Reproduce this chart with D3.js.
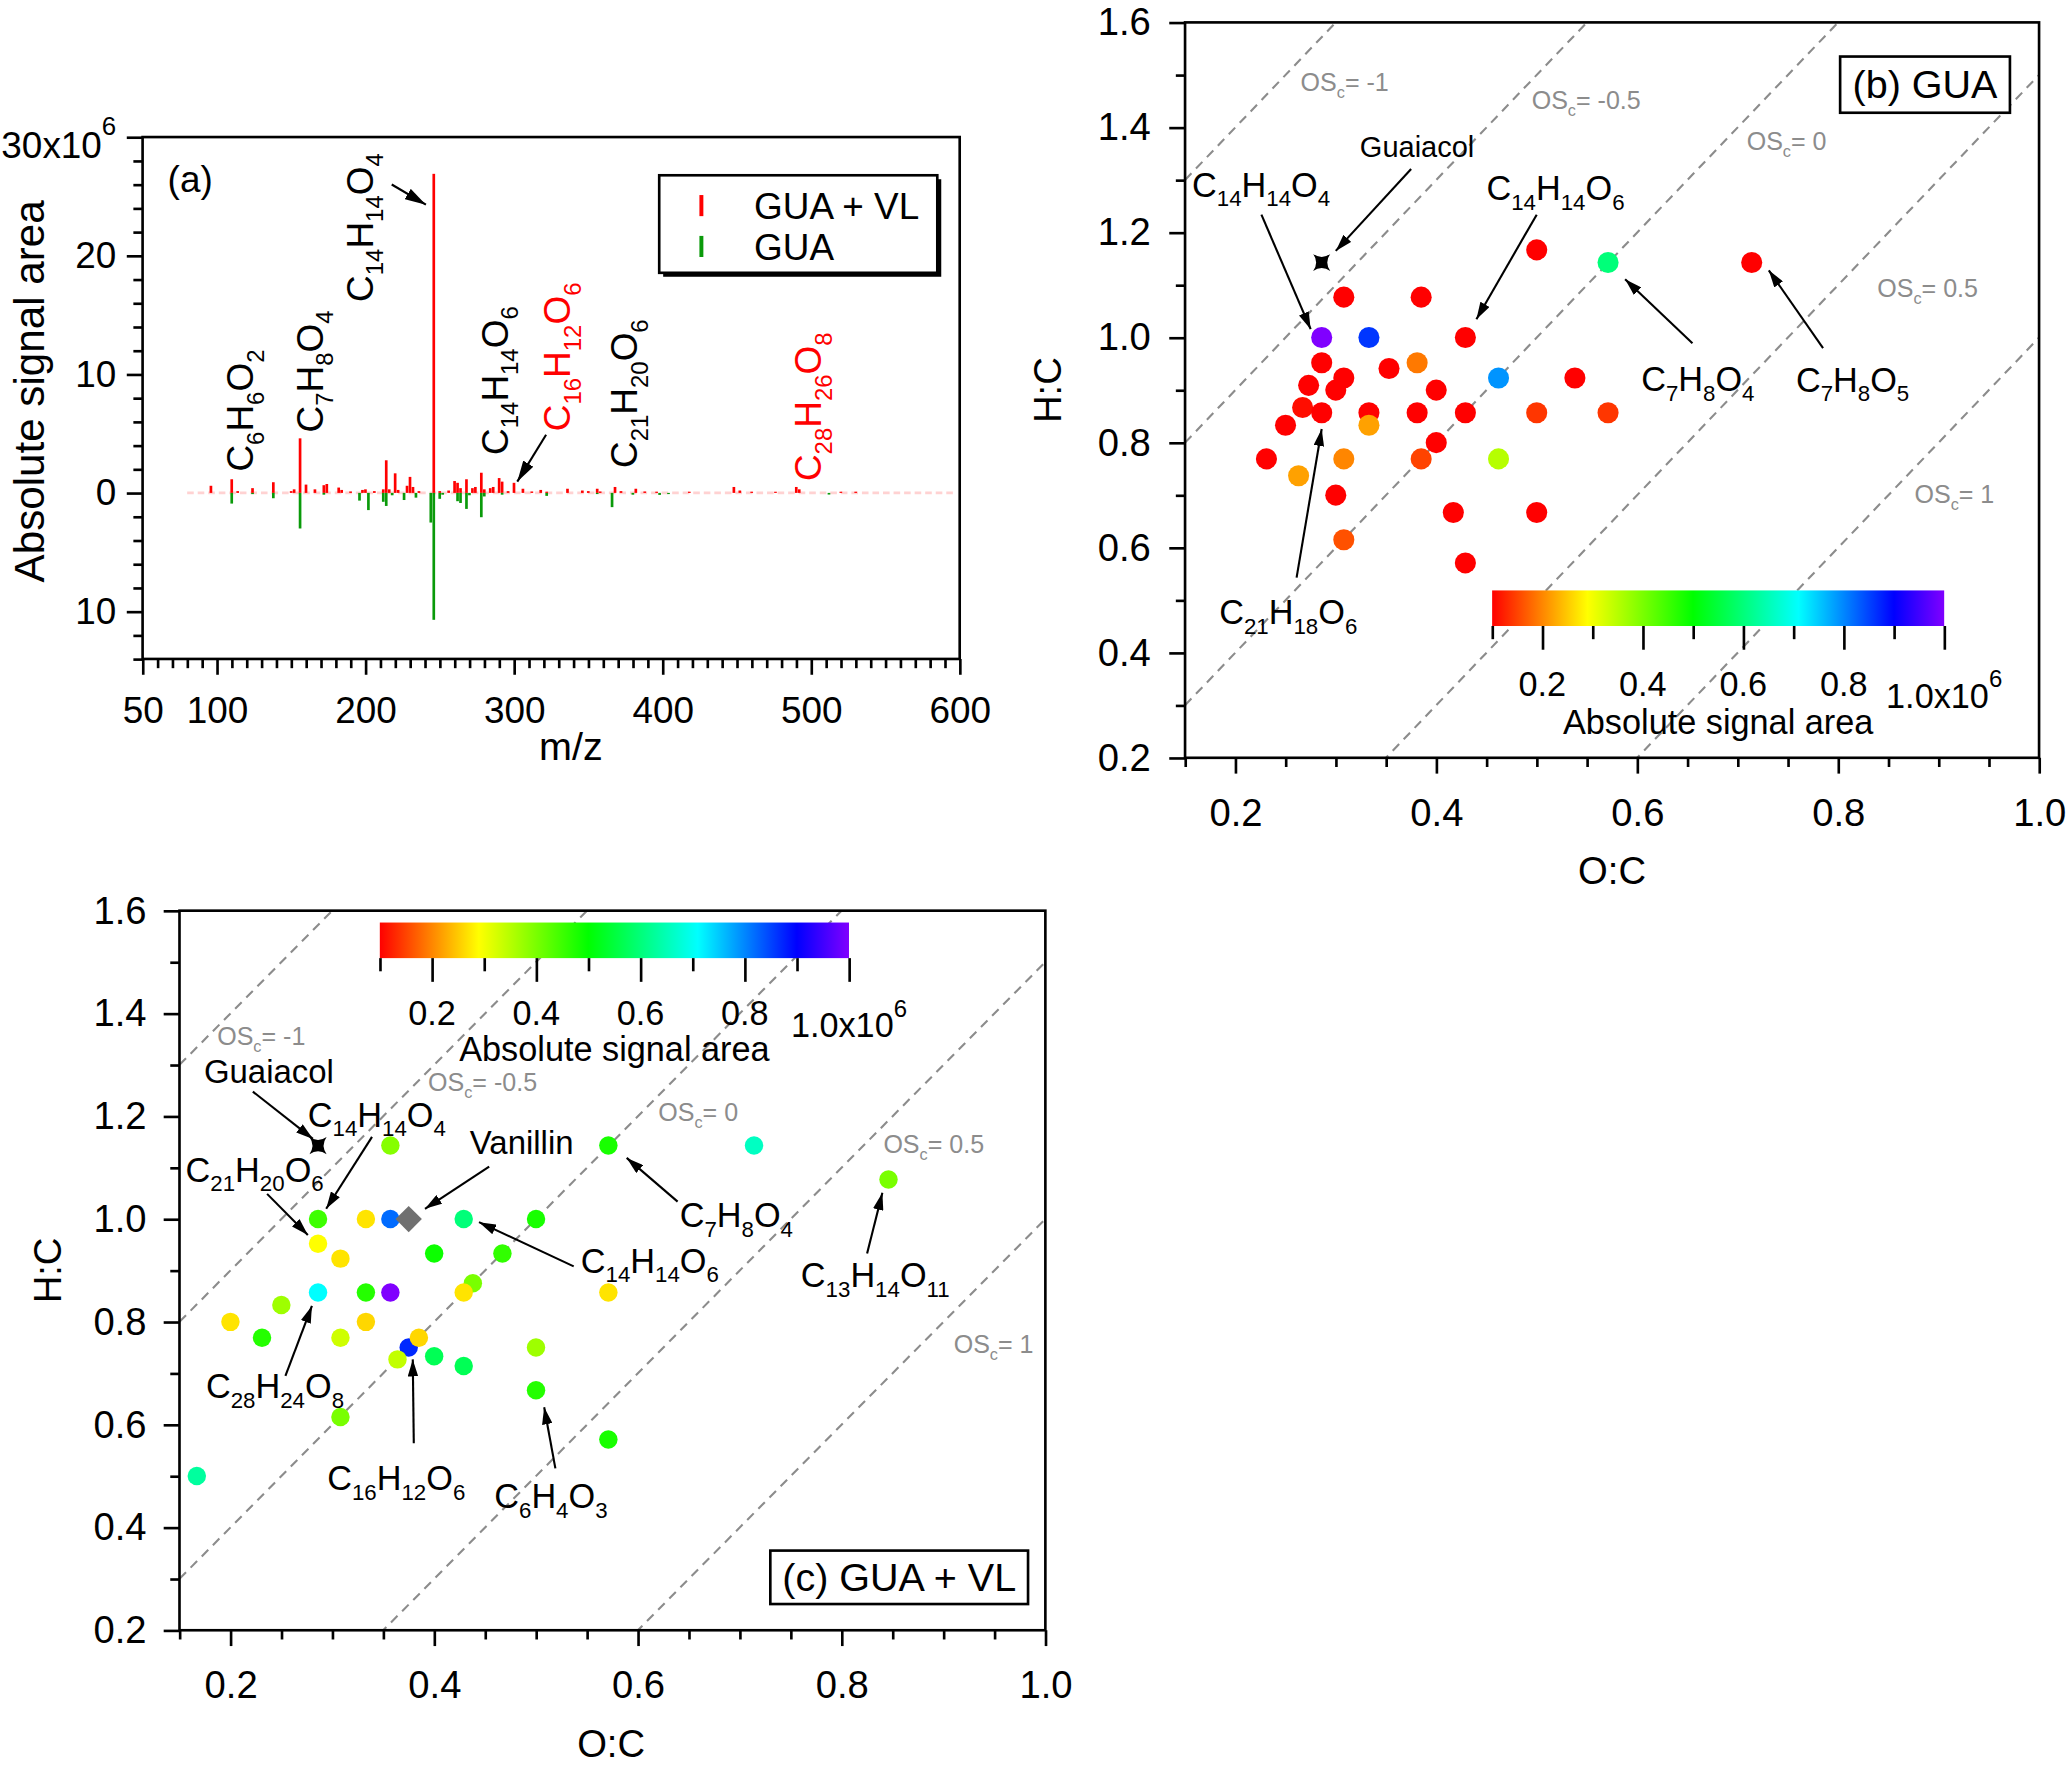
<!DOCTYPE html>
<html>
<head>
<meta charset="utf-8">
<title>GUA and GUA + VL products</title>
<script src="https://d3js.org/d3.v7.min.js"></script>
<style>
  body { margin: 0; background: white; }
  svg { display: block; }
  text { font-family: "Liberation Sans", Arial, Helvetica, sans-serif; fill: black; }
  .frame { fill: none; stroke: black; stroke-width: 2; }
  .osc-line { stroke: #8c8c8c; stroke-width: 1.6; stroke-dasharray: 7,5; fill: none; }
  .osc { fill: #8c8c8c; }
  .arrow { stroke: black; stroke-width: 1.6; }
</style>
</head>
<body>
<svg id="fig" width="2067" height="1766" viewBox="0 0 1568 1340"></svg>
<script>
const FONT = '"Liberation Sans", Arial, Helvetica, sans-serif';

// ---------- (a) mass spectrum, signal area in 10^6 ----------
const redMz  = [96,110,114,124,138,150,152,156,160,166,172,174,182,184,190,198,200,206,212,214,216,220,222,228,230,232,236,246,250,256,260,262,264,268,272,274,278,280,284,286,290,292,296,300,306,312,318,322,336,346,350,356,358,368,372,382,388,396,418,448,452,460,476,490,492,520,530];
const redVal = [0.6,1.15,0.15,0.4,0.9,0.15,0.3,4.6,0.7,0.3,0.65,0.75,0.45,0.25,0.12,0.25,0.3,0.15,0.3,2.75,0.3,1.65,0.25,0.6,1.35,0.5,0.15,26.9,0.15,0.2,1.0,0.85,0.4,1.15,0.4,0.5,1.7,0.3,0.4,0.5,1.25,0.95,0.15,0.85,0.35,0.12,0.25,0.1,0.35,0.2,0.15,0.35,0.12,0.5,0.15,0.35,0.12,0.1,0.1,0.5,0.2,0.1,0.1,0.5,0.3,0.1,0.1];
const greenMz  = [110,124,138,156,172,196,202,212,214,218,226,234,244,246,250,252,262,264,268,270,278,280,292,322,356,366,380,398,404,512];
const greenVal = [0.9,0.1,0.45,3.0,0.15,0.65,1.45,0.75,1.1,0.2,0.6,0.4,2.5,10.7,0.5,0.15,0.7,0.85,1.35,0.2,2.05,0.3,0.15,0.25,0.1,1.2,0.15,0.17,0.1,0.14];

const aXTicks = [50,100,200,300,400,500,600];
const aYTicks = [-10,0,10,20,30];
const aLabelText = ["C6H6O2","C7H8O4","C14H14O4","C14H14O6","C16H12O6","C21H20O6","C28H26O8"];
const aLabelMz   = [124.5,171.5,205,295.7,338,383,506.9];
const aLabelVal  = [1.8,5.1,16.1,3.2,5.2,2.1,1.0];
const aLabelRed  = [false,false,false,false,true,false,true];
const aArrows = [[217.7,26.0,240.7,24.3],[321.6,4.9,302.2,0.95]];
const legendNames = ["GUA + VL","GUA"];

// ---------- (b) GUA van Krevelen ----------
const bOC  = [0.500,0.571,0.714,0.308,0.385,0.286,0.333,0.429,0.286,0.308,0.300,0.273,0.353,0.381,0.400,0.538,0.462,0.250,0.267,0.286,0.333,0.333,0.381,0.429,0.500,0.571,0.231,0.263,0.308,0.385,0.400,0.462,0.300,0.308,0.417,0.500,0.429];
const bHC  = [1.167,1.143,1.143,1.077,1.077,1.000,1.000,1.000,0.952,0.923,0.900,0.909,0.941,0.952,0.900,0.923,0.923,0.833,0.867,0.857,0.857,0.833,0.857,0.857,0.857,0.857,0.769,0.737,0.769,0.769,0.800,0.769,0.700,0.615,0.667,0.667,0.571];
const bSig = [0.10,0.60,0.10,0.10,0.10,1.00,0.86,0.10,0.10,0.10,0.10,0.10,0.10,0.19,0.10,0.10,0.79,0.10,0.11,0.10,0.10,0.22,0.10,0.10,0.14,0.14,0.10,0.22,0.20,0.15,0.10,0.35,0.10,0.16,0.10,0.10,0.10];
const bGuaiacol = [0.286,1.143];
const bLabelText = ["Guaiacol","C14H14O4","C14H14O6","C7H8O4","C7H8O5","C21H18O6"];
const bLabelOC = [0.324,0.157,0.450,0.604,0.758,0.184];
const bLabelHC = [1.343,1.268,1.262,0.898,0.897,0.454];
const bArrows = [[0.375,1.321,0.300,1.165],[0.226,1.234,0.275,1.016],[0.500,1.234,0.440,1.035],[0.655,0.989,0.588,1.111],[0.785,0.980,0.731,1.128],[0.261,0.543,0.286,0.826]];
const bOscOC = [0.265,0.495,0.709,0.839,0.876];
const bOscHC = [1.470,1.435,1.357,1.078,0.685];

// ---------- (c) GUA + VL van Krevelen ----------
const cOC  = [0.357,0.571,0.714,0.846,0.286,0.333,0.357,0.429,0.500,0.286,0.308,0.400,0.467,0.286,0.333,0.357,0.438,0.429,0.571,0.250,0.200,0.333,0.231,0.308,0.375,0.385,0.364,0.400,0.429,0.500,0.500,0.308,0.571,0.167];
const cHC  = [1.143,1.143,1.143,1.077,1.000,1.000,1.000,1.000,1.000,0.952,0.923,0.933,0.933,0.857,0.857,0.857,0.875,0.857,0.857,0.833,0.800,0.800,0.769,0.769,0.750,0.769,0.727,0.733,0.714,0.750,0.667,0.615,0.571,0.500];
const cSig = [0.39,0.48,0.66,0.40,0.45,0.27,0.82,0.60,0.48,0.29,0.27,0.49,0.46,0.71,0.47,1.00,0.40,0.27,0.27,0.37,0.27,0.26,0.47,0.33,0.87,0.26,0.34,0.57,0.57,0.37,0.47,0.40,0.48,0.63];
const cGuaiacol = [0.286,1.143];
const cVanillin = [0.375,1.000];
const cLabelText = ["Guaiacol","C14H14O4","C21H20O6","Vanillin","C7H8O4","C14H14O6","C13H14O11","C28H24O8","C16H12O6","C6H4O3"];
const cLabelOC = [0.174,0.276,0.156,0.435,0.641,0.544,0.760,0.176,0.295,0.459];
const cLabelHC = [1.265,1.180,1.073,1.127,0.984,0.896,0.867,0.651,0.472,0.438];
const cArrows = [[0.222,1.248,0.281,1.156],[0.339,1.160,0.294,1.020],[0.236,1.049,0.276,0.969],[0.454,1.102,0.391,1.020],[0.639,1.034,0.589,1.119],[0.537,0.908,0.444,0.994],[0.825,0.933,0.840,1.051],[0.254,0.695,0.280,0.831],[0.380,0.564,0.379,0.727],[0.519,0.515,0.508,0.634]];
const cOscOC = [0.187,0.394,0.620,0.841,0.910];
const cOscHC = [1.338,1.250,1.190,1.128,0.740];

// shared
const vkTicks = [0.2,0.4,0.6,0.8,1.0];
const vkYTicks = [0.2,0.4,0.6,0.8,1.0,1.2,1.4,1.6];
const oscLevels = [-1,-0.5,0,0.5,1];
const oscNames = ["-1","-0.5","0","0.5","1"];
const cbarTicks = [0.2,0.4,0.6,0.8];
const cbarStops = [0.1,0.29,0.5,0.71,0.9,1.0];
const cbarColors = ["#ff0000","#ffff00","#00ff00","#00ffff","#0000ff","#8000ff"];

const color = d3.scaleLinear().domain(cbarStops).range(cbarColors);

const svg = d3.select("#fig");
const defs = svg.append("defs");

function marker(id, len, wid) {
  defs.append("marker").attr("id", id)
    .attr("viewBox", `0 0 ${len} ${wid}`)
    .attr("refX", len).attr("refY", wid / 2)
    .attr("markerWidth", len).attr("markerHeight", wid)
    .attr("markerUnits", "userSpaceOnUse").attr("orient", "auto")
    .append("path").attr("d", `M0,0L${len},${wid/2}L0,${wid}Z`).attr("fill", "#000");
}
marker("headA", 16, 9);
marker("headS", 13, 8);

const grad = defs.append("linearGradient").attr("id", "rainbow")
  .attr("x1", "0%").attr("x2", "100%").attr("y1", "0%").attr("y2", "0%");
cbarStops.forEach((v, i) => grad.append("stop")
  .attr("offset", ((v - 0.1) / 0.9 * 100) + "%").attr("stop-color", cbarColors[i]));

// text with sub / superscripts: parts = [[text, 0 normal | 1 sub | 2 sup], ...]
function rich(sel, parts, size) {
  let shift = 0;
  parts.forEach(([t, k]) => {
    const target = k === 1 ? 0.28 * size : k === 2 ? -0.6 * size : 0;
    sel.append("tspan").attr("dy", target - shift)
      .attr("font-size", k === 1 ? size * 0.65 : k === 2 ? size * 0.7 : size).text(t);
    shift = target;
  });
  return sel;
}
function formula(str) {
  return str.match(/[^0-9]+|[0-9]+/g).map(s => [s, /^[0-9]+$/.test(s) ? 1 : 0]);
}
function oscParts(n) { return [["OS", 0], ["c", 1], ["= " + n, 0]]; }

function styleAxis(g, size) {
  g.attr("font-family", FONT).attr("font-size", size);
  g.select(".domain").remove();
  g.selectAll(".tick line").attr("stroke", "#000").attr("stroke-width", 2);
  g.selectAll(".tick text").attr("fill", "#000");
}

function drawAxes(g, x, y, o) {
  const [x0, x1] = x.range(), [y0, y1] = y.range();
  g.append("g").attr("transform", `translate(0,${y0})`)
    .call(d3.axisBottom(x).tickValues(o.xMinor).tickSize(7).tickFormat(""))
    .call(styleAxis, o.size);
  g.append("g").attr("transform", `translate(0,${y0})`)
    .call(d3.axisBottom(x).tickValues(o.xMajor).tickSize(12).tickPadding(o.xPad).tickFormat(o.xFmt))
    .call(styleAxis, o.size);
  g.append("g").attr("transform", `translate(${x0},0)`)
    .call(d3.axisLeft(y).tickValues(o.yMinor).tickSize(7).tickFormat(""))
    .call(styleAxis, o.size);
  const ly = g.append("g").attr("transform", `translate(${x0},0)`)
    .call(d3.axisLeft(y).tickValues(o.yMajor).tickSize(12).tickPadding(o.yPad).tickFormat(o.yFmt))
    .call(styleAxis, o.size);
  g.append("rect").attr("class", "frame")
    .attr("x", x0).attr("y", y1).attr("width", x1 - x0).attr("height", y0 - y1);
  return ly;
}

function arrow(g, x, y, a, head) {
  g.append("line").attr("class", "arrow")
    .attr("x1", x(a[0])).attr("y1", y(a[1])).attr("x2", x(a[2])).attr("y2", y(a[3]))
    .attr("marker-end", `url(#${head})`);
}

// four-point star with concave sides
function starPath(cx, cy, h) {
  const k = 0.3 * h;
  return `M${cx - h},${cy - h}Q${cx},${cy - k} ${cx + h},${cy - h}` +
         `Q${cx + k},${cy} ${cx + h},${cy + h}` +
         `Q${cx},${cy + k} ${cx - h},${cy + h}` +
         `Q${cx - k},${cy} ${cx - h},${cy - h}Z`;
}

// ================= panel (a) =================
const xA = d3.scaleLinear().domain([50, 600]).range([108, 728]);
const yA = d3.scaleLinear().domain([-14, 30]).range([500, 104]);
const gA = svg.append("g");
const barW = xA(51.8) - xA(50);

gA.append("line").attr("x1", xA(80)).attr("x2", xA(598)).attr("y1", yA(0)).attr("y2", yA(0))
  .attr("stroke", "#ffd2d2").attr("stroke-width", 2).attr("stroke-dasharray", "5,3");

gA.selectAll("rect.red").data(redMz).join("rect").attr("class", "red")
  .attr("x", d => xA(d) - barW / 2).attr("width", barW)
  .attr("y", (d, i) => yA(redVal[i])).attr("height", (d, i) => yA(0) - yA(redVal[i]))
  .attr("fill", "#ff0000");
gA.selectAll("rect.green").data(greenMz).join("rect").attr("class", "green")
  .attr("x", d => xA(d) - barW / 2).attr("width", barW)
  .attr("y", yA(0)).attr("height", (d, i) => yA(-greenVal[i]) - yA(0))
  .attr("fill", "#0a9a0a");

const lyA = drawAxes(gA, xA, yA, {
  size: 28, xMajor: aXTicks, xMinor: d3.range(60, 600, 10).filter(v => v % 100 !== 0),
  yMajor: aYTicks, yMinor: d3.range(-14, 30, 2).filter(v => v % 10 !== 0),
  xPad: 17, yPad: 8, xFmt: d3.format("d"), yFmt: d => Math.abs(d)
});
lyA.selectAll(".tick text").filter(d => d === 30).text(null).attr("y", 15)
  .each(function () { rich(d3.select(this), [["30x10", 0], ["6", 2]], 28); });

gA.append("text").attr("x", xA.range()[0] + 19).attr("y", yA(25.4)).attr("font-size", 28).text("(a)");

aLabelText.forEach((t, i) => {
  const tx = gA.append("text")
    .attr("transform", `translate(${xA(aLabelMz[i])},${yA(aLabelVal[i])}) rotate(-90)`)
    .style("fill", aLabelRed[i] ? "#ff0000" : "#000");
  rich(tx, formula(t), 28);
});
aArrows.forEach(a => arrow(gA, xA, yA, a, "headA"));

gA.append("text").attr("transform", "translate(33,297) rotate(-90)")
  .attr("text-anchor", "middle").attr("font-size", 32).text("Absolute signal area");
gA.append("text").attr("x", 433).attr("y", 577).attr("text-anchor", "middle")
  .attr("font-size", 30).text("m/z");

// legend
const lg = gA.append("g");
lg.append("rect").attr("x", 503).attr("y", 136).attr("width", 211).attr("height", 74).attr("fill", "#000");
lg.append("rect").attr("x", 500).attr("y", 133).attr("width", 211).attr("height", 74)
  .attr("fill", "#fff").attr("stroke", "#000").attr("stroke-width", 2);
legendNames.forEach((n, i) => {
  const cy = 156 + i * 31;
  lg.append("line").attr("x1", 532).attr("x2", 532).attr("y1", cy - 8).attr("y2", cy + 8)
    .attr("stroke", i === 0 ? "#ff0000" : "#0a9a0a").attr("stroke-width", 3);
  lg.append("text").attr("x", 572).attr("y", cy + 10).attr("font-size", 28).text(n);
});

// ================= van Krevelen panels =================
function colorbar(g, x0, x1, y0, h, labelY, titleY) {
  const cx = d3.scaleLinear().domain([0.1, 1.0]).range([x0, x1]);
  g.append("rect").attr("x", x0).attr("y", y0).attr("width", x1 - x0).attr("height", h)
    .attr("fill", "url(#rainbow)");
  const tg = g.append("g").attr("transform", `translate(0,${y0 + h})`);
  tg.call(d3.axisBottom(cx).tickValues(d3.range(1, 11).map(v => v / 10)).tickSize(10).tickFormat(""))
    .call(styleAxis, 26);
  tg.selectAll(".tick line").attr("y2", d => (Math.round(d * 10) % 2 === 0 ? 18 : 10));
  cbarTicks.forEach(v => g.append("text").attr("x", cx(v)).attr("y", labelY)
    .attr("text-anchor", "middle").attr("font-size", 26).text(d3.format(".1f")(v)));
  rich(g.append("text").attr("x", cx(1.0)).attr("y", labelY + 9).attr("text-anchor", "middle"),
    [["1.0x10", 0], ["6", 2]], 26);
  g.append("text").attr("x", (x0 + x1) / 2).attr("y", titleY).attr("text-anchor", "middle")
    .attr("font-size", 26).text("Absolute signal area");
}

function vkPanel(o) {
  const x = d3.scaleLinear().domain([0.15, 1.0]).range(o.xr);
  const y = d3.scaleLinear().domain([0.2, 1.6]).range(o.yr);
  const g = svg.append("g");
  defs.append("clipPath").attr("id", o.id).append("rect")
    .attr("x", o.xr[0]).attr("y", o.yr[1]).attr("width", o.xr[1] - o.xr[0]).attr("height", o.yr[0] - o.yr[1]);

  g.append("g").attr("clip-path", `url(#${o.id})`).selectAll("line").data(oscLevels).join("line")
    .attr("class", "osc-line")
    .attr("x1", x(0.15)).attr("y1", d => y(2 * 0.15 - d))
    .attr("x2", x(1.0)).attr("y2", d => y(2 * 1.0 - d));
  oscNames.forEach((n, i) => rich(g.append("text").attr("class", "osc")
    .attr("x", x(o.oscOC[i])).attr("y", y(o.oscHC[i])), oscParts(n), 19));

  colorbar(g, o.cbar[0], o.cbar[1], o.cbar[2], 27, o.cbar[3], o.cbar[4]);

  g.selectAll("circle").data(o.oc).join("circle")
    .attr("cx", d => x(d)).attr("cy", (d, i) => y(o.hc[i])).attr("r", o.r)
    .attr("fill", (d, i) => color(o.sig[i]));
  g.append("path").attr("d", starPath(x(o.guaiacol[0]), y(o.guaiacol[1]), 6.5)).attr("fill", "#000");
  if (o.vanillin) {
    const vx = x(o.vanillin[0]), vy = y(o.vanillin[1]);
    g.append("path").attr("d", `M${vx},${vy - 10}L${vx + 10},${vy}L${vx},${vy + 10}L${vx - 10},${vy}Z`)
      .attr("fill", "#707070");
  }

  o.labels.forEach((t, i) => {
    const size = /^[A-Z][a-z]/.test(t) && !/[0-9]/.test(t) ? o.nameSize : 26;
    rich(g.append("text").attr("x", x(o.lOC[i])).attr("y", y(o.lHC[i])), formula(t), size);
  });
  o.arrows.forEach(a => arrow(g, x, y, a, "headS"));

  const bx = x(o.box[0]), by = y(o.box[3]);
  g.append("rect").attr("x", bx).attr("y", by).attr("width", x(o.box[1]) - bx).attr("height", y(o.box[2]) - by)
    .attr("fill", "#fff").attr("stroke", "#000").attr("stroke-width", 2);
  g.append("text").attr("x", (bx + x(o.box[1])) / 2).attr("y", (by + y(o.box[2])) / 2 + 10.5)
    .attr("text-anchor", "middle").attr("font-size", 30).text(o.boxText);

  drawAxes(g, x, y, {
    size: 29, xMajor: vkTicks, xMinor: [0.15,0.25,0.3,0.35,0.45,0.5,0.55,0.65,0.7,0.75,0.85,0.9,0.95],
    yMajor: vkYTicks, yMinor: [0.3,0.5,0.7,0.9,1.1,1.3,1.5],
    xPad: 19, yPad: o.yPad, xFmt: d3.format(".1f"), yFmt: d3.format(".1f")
  });
  g.append("text").attr("x", (o.xr[0] + o.xr[1]) / 2 + o.xTitleDx).attr("y", o.yr[0] + 96)
    .attr("text-anchor", "middle").attr("font-size", 29).text("O:C");
  g.append("text").attr("transform", `translate(${o.yTitleX},${(o.yr[0] + o.yr[1]) / 2}) rotate(-90)`)
    .attr("text-anchor", "middle").attr("font-size", 29).text("H:C");
}

vkPanel({
  id: "clipB", xr: [899, 1547], yr: [575, 17], r: 8,
  oc: bOC, hc: bHC, sig: bSig, guaiacol: bGuaiacol, vanillin: null,
  labels: bLabelText, lOC: bLabelOC, lHC: bLabelHC, arrows: bArrows, nameSize: 22,
  oscOC: bOscOC, oscHC: bOscHC,
  cbar: [1132, 1475, 448, 528, 557],
  box: [0.802, 0.971, 1.428, 1.535], boxText: "(b) GUA",
  yPad: 14, yTitleX: 805, xTitleDx: 0
});
vkPanel({
  id: "clipC", xr: [136, 793], yr: [1237, 691], r: 7,
  oc: cOC, hc: cHC, sig: cSig, guaiacol: cGuaiacol, vanillin: cVanillin,
  labels: cLabelText, lOC: cLabelOC, lHC: cLabelHC, arrows: cArrows, nameSize: 25,
  oscOC: cOscOC, oscHC: cOscHC,
  cbar: [288, 644, 700, 778, 805],
  box: [0.730, 0.983, 0.251, 0.355], boxText: "(c) GUA + VL",
  yPad: 13, yTitleX: 46, xTitleDx: -1
});
</script>
</body>
</html>
